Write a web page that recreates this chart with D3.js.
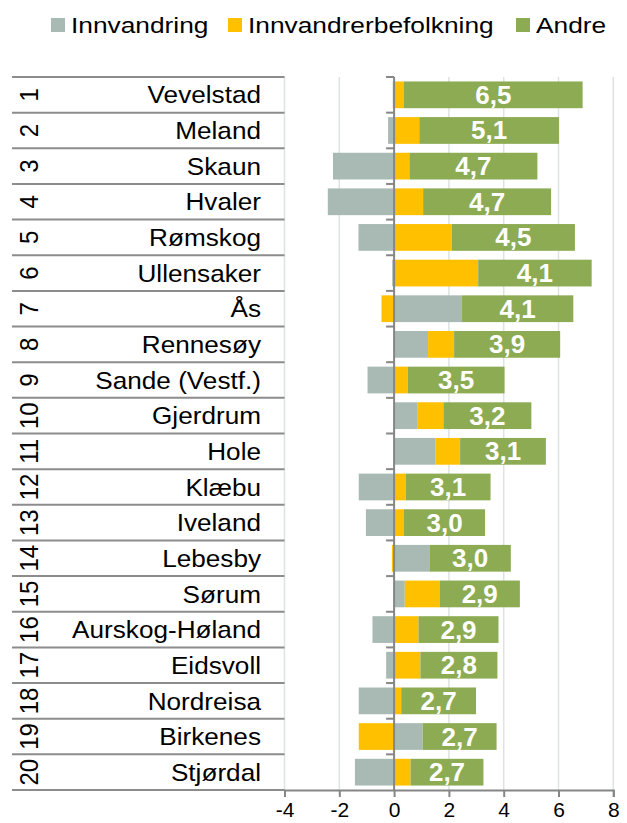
<!DOCTYPE html>
<html>
<head>
<meta charset="utf-8">
<script src="https://cdn.jsdelivr.net/npm/d3@7"></script>
<style>
  body { margin: 0; background: #fff; }
  text { font-family: "Liberation Sans", Arial, sans-serif; }
</style>
</head>
<body>
<div id="chart"></div>
<script>
// kommuner, ranked
var names = ["Vevelstad", "Meland", "Skaun", "Hvaler", "Rømskog", "Ullensaker", "Ås",
  "Rennesøy", "Sande (Vestf.)", "Gjerdrum", "Hole", "Klæbu", "Iveland", "Lebesby",
  "Sørum", "Aurskog-Høland", "Eidsvoll", "Nordreisa", "Birkenes", "Stjørdal"]
var ranks = ["1","2","3","4","5","6","7","8","9","10","11","12","13","14","15","16","17","18","19","20"]

var innvandring = [-0.05, -0.22, -2.23, -2.42, -1.30, -0.07, 2.48, 1.24, -0.97, 0.84,
  1.50, -1.29, -1.03, 1.29, 0.39, -0.79, -0.29, -1.29, 1.04, -1.43]
var innvBefolkning = [0.36, 0.92, 0.56, 1.06, 2.11, 3.07, -0.46, 0.95, 0.50, 0.96,
  0.91, 0.42, 0.36, -0.08, 1.27, 0.89, 0.96, 0.26, -1.29, 0.60]
var andre = [6.52, 5.10, 4.67, 4.67, 4.49, 4.14, 4.06, 3.87, 3.53, 3.21,
  3.13, 3.10, 2.96, 2.97, 2.93, 2.92, 2.81, 2.73, 2.70, 2.66]

var seriesNames = ["Innvandring", "Innvandrerbefolkning", "Andre"]
var seriesColors = ["#a9bab4", "#ffc000", "#8cab52"]
var xTicks = [-4, -2, 0, 2, 4, 6, 8]

var width = 627, height = 823
var svg = d3.select("#chart").append("svg")
  .attr("width", width)
  .attr("height", height)

var table = names.map(function(n, i) {
  return { name: n, rank: ranks[i], Innvandring: innvandring[i],
           Innvandrerbefolkning: innvBefolkning[i], Andre: andre[i] }
})

var x = d3.scaleLinear().domain([-4, 8]).range([284.5, 613.3])
var y = d3.scaleBand().domain(names).range([77, 790]).paddingInner(0.25).paddingOuter(0.125)
var step = y.step()
var color = d3.scaleOrdinal().domain(seriesNames).range(seriesColors)

// gridlines
svg.append("g").selectAll("line")
  .data(xTicks.filter(function(d) { return d != 0 }))
  .enter().append("line")
    .attr("x1", function(d) { return x(d) }).attr("x2", function(d) { return x(d) })
    .attr("y1", 77).attr("y2", 790)
    .attr("stroke", "#dde2e2").attr("stroke-width", 1.5)

// table rules on the left
var bounds = d3.range(names.length + 1).map(function(i) { return 77 + i * step })
svg.append("g").selectAll("line")
  .data(bounds)
  .enter().append("line")
    .attr("x1", 12).attr("x2", x(-4))
    .attr("y1", function(d) { return d }).attr("y2", function(d) { return d })
    .attr("stroke", "#8c8c8c").attr("stroke-width", 2)

// stacked bars
var stack = d3.stack().keys(seriesNames).offset(d3.stackOffsetDiverging)
var layers = stack(table)

svg.append("g").selectAll("g")
  .data(layers)
  .enter().append("g")
    .attr("fill", function(d) { return color(d.key) })
  .selectAll("rect")
  .data(function(d) { return d })
  .enter().append("rect")
    .attr("x", function(d) { return x(Math.min(d[0], d[1])) })
    .attr("width", function(d) { return Math.abs(x(d[1]) - x(d[0])) })
    .attr("y", function(d) { return y(d.data.name) })
    .attr("height", y.bandwidth())

// value labels in the green part
var andreLayer = layers[2]
svg.append("g").selectAll("text")
  .data(andreLayer)
  .enter().append("text")
    .attr("transform", function(d) {
      return "translate(" + x((d[0] + d[1]) / 2) + "," + (y(d.data.name) + y.bandwidth() / 2) + ") scale(1.04,1)"
    })
    .attr("text-anchor", "middle")
    .attr("dy", "0.36em")
    .attr("fill", "#fff")
    .style("font-weight", "bold")
    .style("font-size", "25px")
    .text(function(d) { return d3.format(".1f")(d.data.Andre).replace(".", ",") })

// names
svg.append("g").selectAll("text")
  .data(table)
  .enter().append("text")
    .attr("transform", function(d) {
      return "translate(261," + (y(d.name) + y.bandwidth() / 2) + ") scale(1.09,1)"
    })
    .attr("text-anchor", "end")
    .attr("dy", "0.36em")
    .style("font-size", "24px")
    .attr("fill", "#000")
    .text(function(d) { return d.name })

// rank numbers, rotated
svg.append("g").selectAll("text")
  .data(table)
  .enter().append("text")
    .attr("transform", function(d) {
      return "translate(29," + (y(d.name) + y.bandwidth() / 2) + ") scale(1.08,1) rotate(-90)"
    })
    .attr("text-anchor", "middle")
    .attr("dy", "0.36em")
    .style("font-size", "24px")
    .attr("fill", "#000")
    .text(function(d) { return d.rank })

// zero axis with category ticks
var yAxis = svg.append("g")
yAxis.append("line")
  .attr("x1", x(0)).attr("x2", x(0)).attr("y1", 77).attr("y2", 790)
  .attr("stroke", "#868686").attr("stroke-width", 2)
yAxis.selectAll(".ct")
  .data(bounds.slice(0, -1))
  .enter().append("line")
    .attr("x1", x(0) - 8).attr("x2", x(0))
    .attr("y1", function(d) { return d }).attr("y2", function(d) { return d })
    .attr("stroke", "#868686").attr("stroke-width", 2)

// bottom axis
var xAxis = svg.append("g").attr("transform", "translate(0,790)")
  .call(d3.axisBottom(x).tickValues(xTicks).tickSize(7).tickPadding(5).tickFormat(d3.format("d")))
xAxis.select(".domain").attr("stroke", "#868686").attr("stroke-width", 2)
xAxis.selectAll(".tick line").attr("stroke", "#868686").attr("stroke-width", 2)
xAxis.selectAll(".tick text")
  .style("font-size", "21px")
  .style("font-family", "'Liberation Sans', Arial, sans-serif")
  .attr("fill", "#000")
  .text(function(d) { return d < 0 ? "-" + Math.abs(d) : d })

// legend
var legendX = [51, 228, 516]
var legend = svg.append("g").selectAll("g")
  .data(seriesNames)
  .enter().append("g")
    .attr("transform", function(d, i) { return "translate(" + legendX[i] + ",18)" })
legend.append("rect")
  .attr("width", 14).attr("height", 14)
  .attr("fill", function(d) { return color(d) })
legend.append("text")
  .attr("transform", "translate(20,14.5) scale(1.17,1)")
  .style("font-size", "22.5px")
  .attr("fill", "#000")
  .text(function(d) { return d })
</script>
</body>
</html>
